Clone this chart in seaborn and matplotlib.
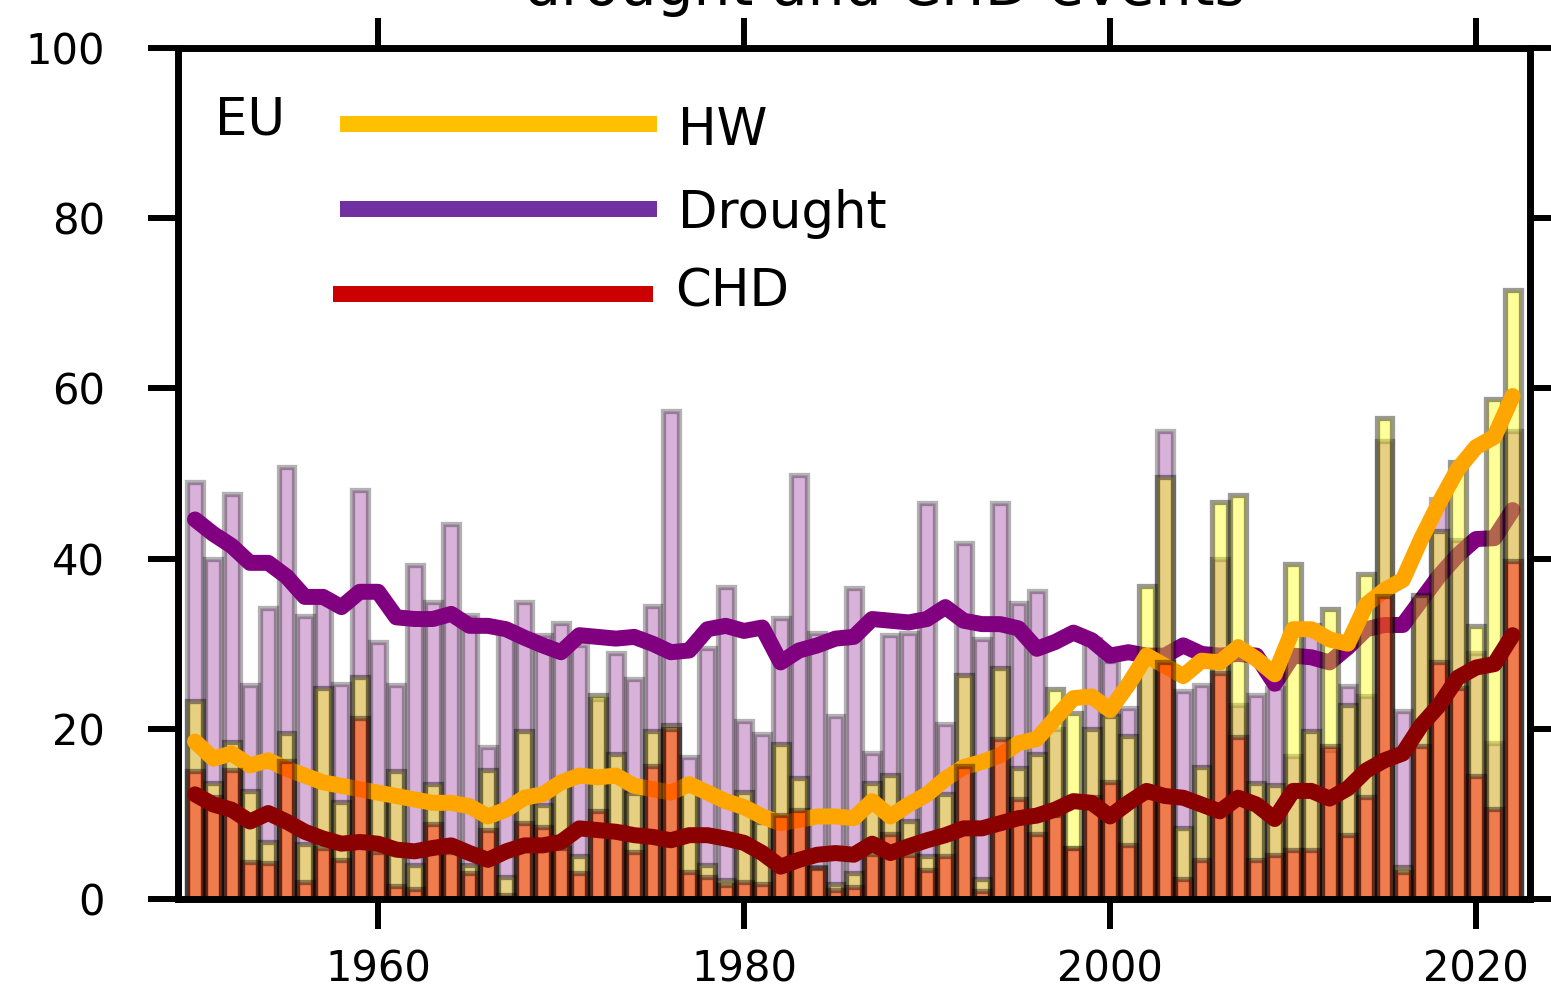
import numpy as np
import matplotlib
matplotlib.use("Agg")
import matplotlib.pyplot as plt
import seaborn as sns
from matplotlib.colors import to_rgba

years = list(range(1950, 2023))

# yearly counts
drought = [49.0, 40.0, 47.6, 25.2, 34.2, 50.8, 33.2, 34.9, 25.3, 48.1,
           30.2, 25.1, 39.3, 34.9, 44.1, 33.4, 17.9, 31.5, 34.9, 31.0,
           32.4, 29.9, 23.5, 28.9, 25.9, 34.4, 57.3, 16.7, 29.5, 36.7,
           20.9, 19.4, 33.0, 49.8, 31.2, 21.5, 36.5, 17.2, 31.0, 31.2,
           46.5, 20.6, 41.8, 30.6, 46.5, 34.8, 36.2, 20.0, 6.0, 30.6,
           28.0, 22.5, 28.0, 55.0, 24.4, 25.1, 40.0, 22.8, 24.0, 24.8,
           16.8, 32.2, 17.5, 25.0, 23.8, 53.8, 22.1, 35.2, 47.0, 42.2,
           28.9, 18.3, 55.0]
hw = [23.3, 13.6, 18.5, 12.7, 6.7, 19.5, 6.5, 24.8, 11.4, 26.1,
      12.4, 15.0, 4.0, 13.5, 6.0, 4.0, 15.2, 2.6, 19.7, 11.0,
      13.6, 5.0, 24.0, 17.0, 12.5, 19.7, 20.4, 12.8, 4.0, 2.2,
      12.6, 9.1, 18.2, 14.2, 3.8, 1.8, 3.0, 13.6, 14.6, 9.2,
      5.0, 12.3, 26.3, 2.4, 27.2, 15.4, 17.0, 24.7, 21.8, 20.0,
      21.5, 19.1, 36.8, 49.6, 8.3, 15.5, 46.7, 47.5, 13.6, 13.4,
      39.4, 19.7, 34.1, 22.8, 38.2, 56.5, 3.8, 35.7, 43.2, 51.3,
      32.1, 58.7, 71.6]
chd = [15.0, 12.0, 15.2, 4.4, 4.2, 16.2, 2.0, 6.0, 4.6, 21.3,
       5.5, 1.5, 1.2, 8.8, 5.5, 3.0, 8.1, 0.5, 8.9, 8.5,
       6.0, 3.0, 10.3, 8.5, 5.5, 15.6, 20.0, 3.2, 2.6, 1.6,
       2.0, 1.8, 9.9, 10.5, 3.6, 1.0, 1.4, 5.3, 7.6, 5.2,
       3.4, 5.0, 15.6, 0.9, 18.8, 11.8, 7.6, 9.9, 6.0, 12.0,
       13.8, 6.4, 12.0, 27.9, 2.4, 4.6, 26.6, 19.0, 4.6, 5.2,
       5.8, 5.8, 18.0, 7.5, 12.0, 35.6, 3.2, 18.0, 27.8, 24.8,
       14.4, 10.6, 39.7]

# smoothed curves
drought_trend = [44.6, 42.9, 41.5, 39.5, 39.5, 37.9, 35.5, 35.5, 34.3, 36.1,
                 36.1, 33.1, 32.9, 32.9, 33.5, 32.1, 32.1, 31.7, 30.7, 29.8,
                 29.0, 31.0, 30.8, 30.6, 30.8, 30.0, 29.0, 29.2, 31.7, 32.1,
                 31.5, 31.9, 27.8, 29.2, 29.8, 30.6, 30.8, 32.9, 32.7, 32.5,
                 32.9, 34.3, 32.7, 32.3, 32.3, 31.8, 29.4, 30.2, 31.3, 30.4,
                 28.6, 29.0, 28.6, 28.6, 29.8, 28.8, 28.6, 28.8, 28.6, 25.3,
                 28.6, 28.4, 27.8, 29.6, 31.7, 32.2, 32.2, 35.1, 38.0, 40.4,
                 42.3, 42.4, 45.7]
hw_trend = [18.5, 16.5, 17.1, 15.7, 16.3, 15.3, 14.5, 13.7, 13.3, 12.9,
            12.5, 12.1, 11.7, 11.3, 11.3, 10.9, 9.7, 10.5, 11.9, 12.3,
            13.7, 14.5, 14.3, 14.5, 13.3, 12.9, 12.5, 13.5, 12.5, 11.5,
            10.8, 9.7, 8.9, 9.3, 9.7, 9.7, 9.5, 11.5, 9.7, 11.1,
            12.3, 14.1, 15.5, 16.1, 16.9, 18.3, 18.8, 21.2, 23.6, 23.8,
            22.2, 25.2, 28.6, 27.4, 26.2, 28.0, 27.8, 29.6, 28.2, 26.4,
            31.7, 31.7, 30.5, 30.0, 34.6, 36.3, 37.5, 42.3, 46.6, 50.5,
            53.1, 54.3, 59.1]
chd_trend = [12.3, 11.1, 10.5, 9.1, 10.1, 9.1, 7.9, 7.1, 6.5, 6.7,
             6.5, 5.8, 5.6, 6.0, 6.3, 5.4, 4.6, 5.6, 6.3, 6.3,
             6.7, 8.3, 8.1, 7.9, 7.5, 7.3, 6.9, 7.5, 7.5, 7.1,
             6.6, 5.4, 3.8, 4.6, 5.2, 5.4, 5.2, 6.5, 5.4, 6.2,
             6.9, 7.5, 8.3, 8.3, 8.9, 9.5, 9.8, 10.5, 11.5, 11.3,
             9.7, 11.3, 12.7, 12.1, 11.9, 11.1, 10.3, 11.9, 11.1, 9.4,
             12.7, 12.7, 11.8, 13.0, 15.1, 16.3, 17.1, 20.4, 22.8, 26.0,
             27.2, 27.6, 31.0]

labels = ["HW", "Drought", "CHD"]
legend_colors = ["#FFC000", "#7030A0", "#CC0000"]

sns.set_style("ticks")
plt.rcParams['font.family'] = ['DejaVu Sans']
plt.rcParams['text.color'] = 'black'

W, H = 1551, 991
fig = plt.figure(figsize=(W / 100, H / 100), dpi=100)
ax = fig.add_axes([178 / W, 1 - 899 / H, (1530 - 178) / W, (899 - 48) / H])


def draw_bars(values, color, alpha, z):
    sns.barplot(x=years, y=values, native_scale=True, width=0.87,
                color=color, saturation=1, errorbar=None, ax=ax)
    for bar in ax.containers[-1]:
        bar.set_facecolor(to_rgba(color, alpha))
        bar.set_edgecolor(to_rgba("black", alpha))
        bar.set_linewidth(3.8)
        bar.set_zorder(z)


# drawing order: bars then curve, for each hazard
draw_bars(drought, "purple", 0.3, 1)
sns.lineplot(x=years, y=drought_trend, color="purple", linewidth=11.5,
             errorbar=None, zorder=2, ax=ax)
draw_bars(hw, "yellow", 0.4, 3)
sns.lineplot(x=years, y=hw_trend, color="orange", linewidth=11.5,
             errorbar=None, zorder=4, ax=ax)
draw_bars(chd, "red", 0.4, 5)
sns.lineplot(x=years, y=chd_trend, color="darkred", linewidth=11.5,
             errorbar=None, zorder=6, ax=ax)

# hand-made legend in axes coordinates
ax.text(0.027, 0.898, "EU", transform=ax.transAxes, fontsize=37,
        ha="left", va="baseline", color="black", zorder=10)
leg_y = [0.9107, 0.8108, 0.7109]
leg_x0 = [0.1198, 0.1198, 0.1146]
leg_x1 = [0.3543, 0.3543, 0.3513]
text_y = [0.886, 0.7885, 0.6968]
text_x = [0.3698, 0.3698, 0.3676]
for lab, col, y, x0, x1, ty, tx in zip(labels, legend_colors, leg_y, leg_x0,
                                        leg_x1, text_y, text_x):
    ax.plot([x0, x1], [y, y], transform=ax.transAxes, color=col,
            linewidth=11.5, solid_capstyle="butt", zorder=10)
    ax.text(tx, ty, lab, transform=ax.transAxes, fontsize=37,
            ha="left", va="baseline", color="black", zorder=10)

ax.set_xlim(1949.07, 2022.95)
ax.set_ylim(0, 100)
ax.set_xticks([1960, 1980, 2000, 2020])
ax.set_yticks([0, 20, 40, 60, 80, 100])
ax.set_xlabel("")
ax.set_ylabel("")
ax.tick_params(axis="both", direction="out", length=21.6, width=4.3,
               color="black", labelcolor="black", labelsize=30,
               top=True, right=True, labeltop=False, labelright=False)
ax.tick_params(axis="y", pad=31)
ax.tick_params(axis="x", pad=14)
for s in ax.spines.values():
    s.set_visible(True)
    s.set_linewidth(5)
    s.set_color("black")
    s.set_zorder(20)

# title sits mostly above the cropped canvas
fig.text(885 / W, 1 - 5 / H, "drought and CHD events", ha="center",
         va="baseline", fontsize=42, color="black")

fig.savefig("out.png", dpi=100)
